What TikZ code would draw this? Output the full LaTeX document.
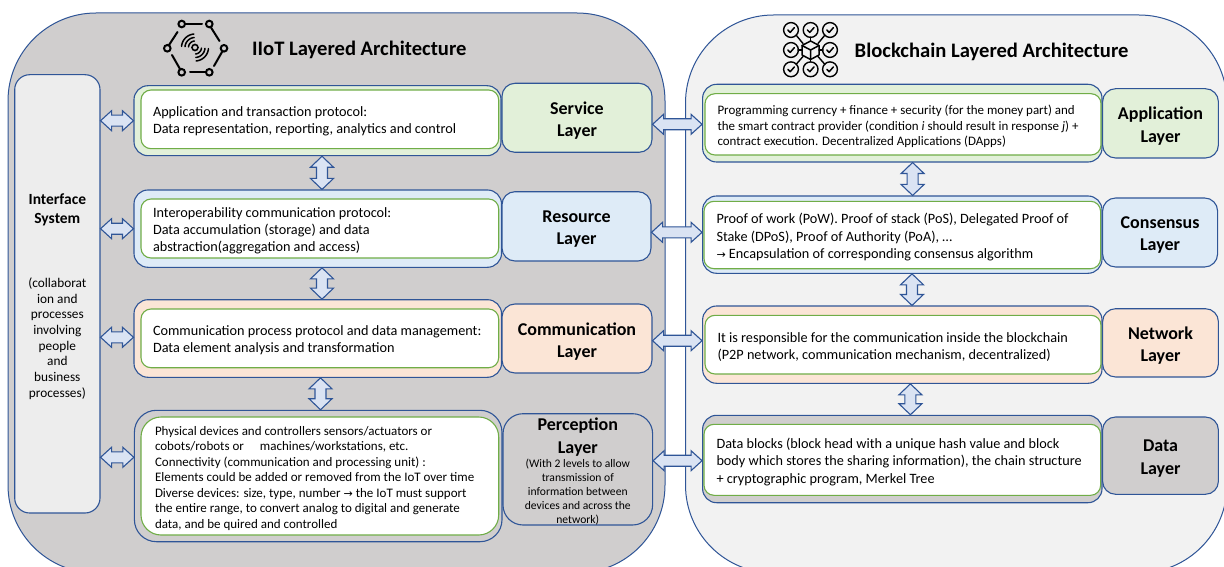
\documentclass[tikz,border=0pt]{standalone}
\usepackage{fontspec}
\setmainfont{Carlito}
\newfontfamily\symf{DejaVu Sans}
\usetikzlibrary{calc}
\definecolor{edge}{HTML}{2F5597}
\definecolor{ingreen}{HTML}{70AD47}
\definecolor{lgreen}{HTML}{E2F0D9}
\definecolor{lblue}{HTML}{DEEBF7}
\definecolor{lorange}{HTML}{FBE5D6}
\definecolor{lgray}{HTML}{D0CECE}
\definecolor{lpanel}{HTML}{F2F2F2}
\definecolor{liface}{HTML}{EDEDED}
\definecolor{arrowfill}{HTML}{DAE3F3}
\tikzset{
  panelbox/.style={draw=edge,line width=1pt,rounded corners=88pt,inner sep=0pt},
  outerbox/.style={draw=edge,line width=1.1pt,rounded corners=14pt,inner sep=0pt},
  layerbox/.style={draw=edge,line width=1.1pt,rounded corners=13pt,inner sep=0pt,align=flush center,text width=112pt,font=\fontsize{18}{22.3}\selectfont\bfseries},
  innerbox/.style={draw=ingreen,fill=white,line width=1.1pt,rounded corners=10pt,inner ysep=0pt,align=flush left,font=\fontsize{14.25}{17.2}\selectfont},
  blockarrow/.style={draw=edge,fill=arrowfill,line width=1.1pt,line join=miter},
  titletext/.style={inner sep=0pt,anchor=west,font=\fontsize{20.6}{24}\selectfont\bfseries},
  icon/.style={draw=black,line width=2pt,line cap=round},
  iconthin/.style={draw=black,line width=1.4pt,line cap=round,line join=round}
}
\newcommand\vup[1]{\par\vskip-#1\kern0pt }
\newcommand\bx[7]{%
  \pgfmathsetmacro\bxw{#5-#3}\pgfmathsetmacro\bxh{#6-#4}%
  \node[#2,minimum width=\bxw pt,minimum height=\bxh pt] (#1) at ({(#3+#5)/2},{(#4+#6)/2}) {#7};}
\newcommand\tb[8]{%
  \pgfmathsetmacro\bxw{#5-#3}\pgfmathsetmacro\bxh{#6-#4}\pgfmathsetmacro\bxt{#5-#3-2*#7}%
  \node[#2,inner xsep=#7 pt,text width=\bxt pt,minimum width=\bxw pt,minimum height=\bxh pt] (#1) at ({(#3+#5)/2},{(#4+#6)/2}) {#8\vup{4.4pt}};}
\newcommand\lay[2]{#1\\#2\vup{5.6pt}}
% horizontal double block arrow between a.east and b.west at height y
\newcommand\hdbl[3]{%
  \draw[blockarrow] let \p1=(#1.east |- 0,#3), \p2=(#2.west |- 0,#3) in
   (\x1,\y1) -- ({\x1+11pt},{\y1+10pt}) -- ({\x1+11pt},{\y1+5.5pt}) -- ({\x2-11pt},{\y1+5.5pt}) -- ({\x2-11pt},{\y1+10pt}) -- (\x2,\y1)
   -- ({\x2-11pt},{\y1-10pt}) -- ({\x2-11pt},{\y1-5.5pt}) -- ({\x1+11pt},{\y1-5.5pt}) -- ({\x1+11pt},{\y1-10pt}) -- cycle;}
% vertical double block arrow between a.south and b.north at abscissa x
\newcommand\vdbl[3]{%
  \draw[blockarrow] let \p1=(#3,0 |- #1.south), \p2=(#3,0 |- #2.north) in
   (\x1,\y1) -- ({\x1+11.5pt},{\y1-11pt}) -- ({\x1+5.5pt},{\y1-11pt}) -- ({\x1+5.5pt},{\y2+11pt}) -- ({\x1+11.5pt},{\y2+11pt}) -- (\x1,\y2)
   -- ({\x1-11.5pt},{\y2+11pt}) -- ({\x1-5.5pt},{\y2+11pt}) -- ({\x1-5.5pt},{\y1-11pt}) -- ({\x1-11.5pt},{\y1-11pt}) -- cycle;}
\newcommand\arcs[5]{\draw[icon,line width=1.5pt] plot[domain=#4:#5,samples=14,smooth,variable=\t] ({#1+#3*cos(\t)},{#2+#3*sin(\t)});}
\newcommand\chk[2]{%
  \draw[iconthin] (#1,#2) circle[radius=7.4];
  \draw[iconthin,line width=1.5pt] (#1-3.2,#2) -- (#1-0.8,#2+2.4) -- (#1+3.4,#2-2.4);}
\begin{document}
\begin{tikzpicture}[x=1pt,y=-1pt]
\useasboundingbox (0,0) rectangle (1224,567);
\clip (0,0) rectangle (1224,567);
\fill[white] (0,0) rectangle (1224,567);
% panels
\bx{pl}{panelbox,fill=lgray}{8}{13}{665}{573}{}
\bx{pr}{panelbox,fill=lpanel}{685.5}{15}{1227}{573}{}
% titles
\node[titletext] (tl) at (252,50) {IIoT Layered Architecture};
\node[titletext] (tr) at (854.5,51.5) {Blockchain Layered Architecture};
% IIoT icon
\foreach \a/\b in {181.7/24,209.3/24,224/48.3,209.3/72.3,181.7/72.3,167.3/48.3}{\draw[icon] (\a,\b) circle[radius=3.3];}
\draw[icon] (185.5,24) -- (202,24);
\draw[icon] (211,27.5) -- (219.5,41);
\draw[icon] (222,52) -- (214,66);
\draw[icon] (205.5,72.3) -- (190,72.3);
\draw[icon] (180,69) -- (172,55);
\draw[icon] (169,45) -- (177.5,32);
\draw[icon,line width=1.6pt] (195,47.5) circle[radius=3];
\foreach \r in {6.5,10,13.5}{\arcs{195}{47.5}{\r}{185}{265}\arcs{195}{47.5}{\r}{5}{85}}
% blockchain icon
\foreach \a in {791,810.6,830}{\foreach \b in {30,69.3}{\chk{\a}{\b}}}
\chk{791}{50}\chk{830}{50}
\draw[iconthin] (796,35) -- (803,43.5) (825,35) -- (818,43.5) (796,64.5) -- (803,56.5) (825,64.5) -- (818,56.5);
\draw[iconthin] (798,50) -- (802,50) (819,50) -- (823,50) (810.6,37) -- (810.6,41) (810.6,59) -- (810.6,62);
\draw[iconthin,line width=1.5pt] (810.6,41) -- (819,45.5) -- (819,55) -- (810.6,59.5) -- (802,55) -- (802,45.5) -- cycle;
\draw[iconthin,line width=1.5pt] (802,45.5) -- (810.6,50) -- (819,45.5) (810.6,50) -- (810.6,59.5);
% interface system
\bx{iface}{outerbox,rounded corners=15pt,fill=liface,align=flush center,text width=84pt}{14.7}{74.7}{100}{513}{%
  \fontsize{15.5}{18.8}\selectfont\bfseries Interface\\ System\\[48pt]\fontsize{13.3}{15.7}\selectfont\mdseries
  (collaborat\\ ion and\\ processes\\ involving\\ people\\ and\\ business\\ processes)\vup{6pt}}
% left outer boxes
\bx{o1}{outerbox,fill=lgreen}{134}{85.7}{501}{155.7}{}
\bx{o2}{outerbox,fill=lblue}{134}{190}{501.5}{267.3}{}
\bx{o3}{outerbox,fill=lorange}{134}{299.7}{501.5}{377.3}{}
\bx{o4}{outerbox,fill=lgray,rounded corners=22pt}{134.4}{410.3}{502}{541.7}{}
% left inner boxes
\tb{i1}{innerbox}{141}{90}{498.7}{148.7}{12}{Application and transaction protocol:\\Data representation, reporting, analytics and control}
\tb{i2}{innerbox}{141}{199}{498.7}{258}{12}{Interoperability communication protocol:\\Data accumulation (storage) and data\\abstraction(aggregation and access)}
\tb{i3}{innerbox}{141}{309}{498.7}{367.7}{12}{Communication process protocol and data management:\\Data element analysis and transformation}
\tb{i4}{innerbox,rounded corners=20pt,font=\fontsize{13}{15.45}\selectfont}{141}{417}{498.7}{535}{14}{Physical devices and controllers sensors/actuators or\\cobots/robots or \quad machines/workstations, etc.\\Connectivity (communication and processing unit) :\\Elements could be added or removed from the IoT over time\\Diverse devices: size, type, number {\symf\fontsize{11}{15.45}\selectfont →} the IoT must support\\the entire range, to convert analog to digital and generate\\data, and be quired and controlled}
% left layer boxes
\bx{l1}{layerbox,fill=lgreen,text width=140pt}{502}{83.3}{652}{152.3}{\lay{Service}{Layer}}
\bx{l2}{layerbox,fill=lblue,text width=140pt}{502}{191.7}{651}{261}{\lay{Resource}{Layer}}
\bx{l3}{layerbox,fill=lorange,text width=140pt}{502}{304}{652}{373}{\lay{Communication}{Layer}}
\bx{l4}{layerbox,fill=lgray,rounded corners=20pt,text width=148pt}{503}{413.7}{652.6}{525}{%
  Perception\\Layer\\[0.5pt]\fontsize{11.6}{14}\selectfont\mdseries (With 2 levels to allow\\transmission of\\information between\\devices and across the\\network)\vup{5pt}}
% right outer boxes
\bx{r1}{outerbox,fill=lgreen}{702.6}{84.3}{1102}{162}{}
\bx{r2}{outerbox,fill=lblue}{702.6}{196}{1102}{273.3}{}
\bx{r3}{outerbox,fill=lorange}{702.6}{306}{1102}{383.3}{}
\bx{r4}{outerbox,fill=lgray}{702.6}{415.3}{1102}{502.7}{}
% right inner boxes
\tb{j1}{innerbox,font=\fontsize{12.95}{15.6}\selectfont}{705}{93.7}{1101}{155}{12.5}{Programming currency + finance + security (for the money part) and\\the smart contract provider (condition \textit{i} should result in response \textit{j}) +\\contract execution. Decentralized Applications (DApps)}
\tb{j2}{innerbox}{704}{201.3}{1100.6}{268.7}{12.5}{Proof of work (PoW). Proof of stack (PoS), Delegated Proof of\\Stake (DPoS), Proof of Authority (PoA), …\\{\symf\fontsize{11}{17.2}\selectfont →} Encapsulation of corresponding consensus algorithm}
\tb{j3}{innerbox}{705}{315.3}{1101}{374}{12.5}{It is responsible for the communication inside the blockchain\\(P2P network, communication mechanism, decentralized)}
\tb{j4}{innerbox}{704}{424.3}{1100.6}{495.3}{12.5}{Data blocks (block head with a unique hash value and block\\body which stores the sharing information), the chain structure\\+ cryptographic program, Merkel Tree}
% right layer boxes
\bx{k1}{layerbox,fill=lgreen}{1102.6}{88.7}{1218.4}{158}{\lay{Application}{Layer}}
\bx{k2}{layerbox,fill=lblue}{1102.6}{198}{1217.6}{267}{\lay{Consensus}{Layer}}
\bx{k3}{layerbox,fill=lorange}{1102.6}{308.7}{1218.4}{377}{\lay{Network}{Layer}}
\bx{k4}{layerbox,fill=lgray}{1102.6}{417}{1218.4}{494.3}{\lay{Data}{Layer}}
% arrows: interface to left rows
\hdbl{iface}{o1}{120.7}
\hdbl{iface}{o2}{228.7}
\hdbl{iface}{o3}{337.3}
\hdbl{iface}{o4}{457.3}
% arrows: left layers to right rows
\hdbl{l1}{r1}{124.3}
\hdbl{l2}{r2}{232.3}
\hdbl{l3}{r3}{340.7}
\hdbl{l4}{r4}{460.7}
% vertical arrows
\vdbl{o1}{o2}{322}
\vdbl{o2}{o3}{322}
\vdbl{o3}{o4}{320.5}
\vdbl{r1}{r2}{912.6}
\vdbl{r2}{r3}{912}
\vdbl{r3}{r4}{910.4}
\end{tikzpicture}
\end{document}
